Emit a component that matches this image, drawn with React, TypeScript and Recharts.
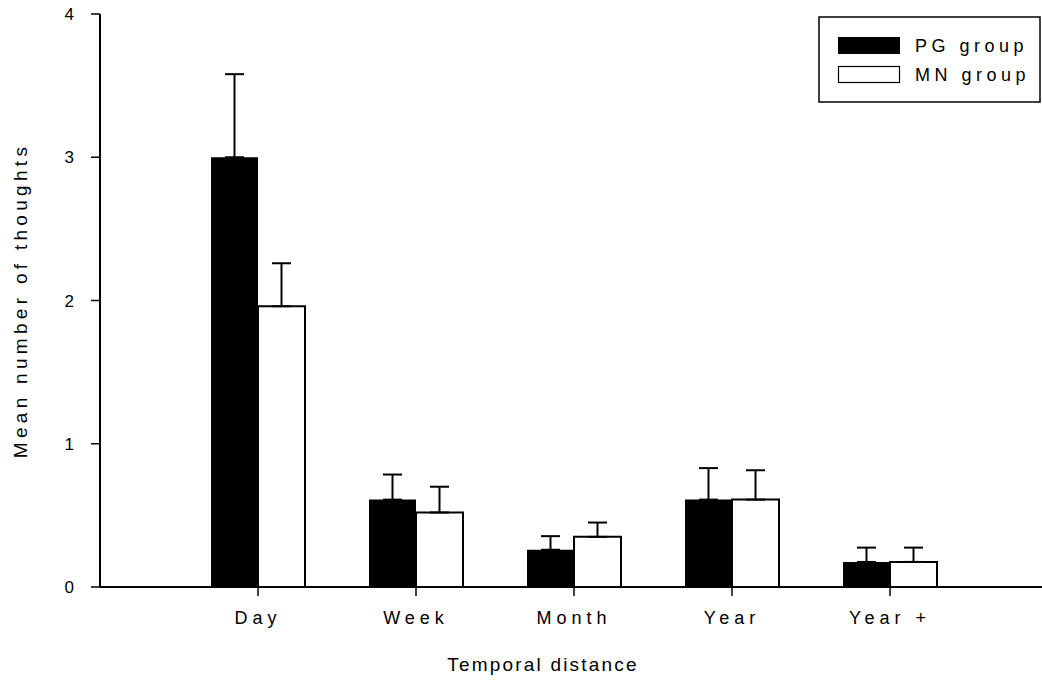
import { Bar, BarChart, ErrorBar, XAxis, YAxis } from "recharts";

const periods = ["Day", "Week", "Month", "Year", "Year +"];
const pgMeans = [3.0, 0.61, 0.26, 0.61, 0.175];
const pgErrors = [0.58, 0.175, 0.095, 0.22, 0.1];
const mnMeans = [1.96, 0.52, 0.35, 0.61, 0.175];
const mnErrors = [0.3, 0.18, 0.1, 0.205, 0.1];
const yTicks = [0, 1, 2, 3, 4];
const seriesNames = ["PG group", "MN group"];

const data = periods.map((period, i) => ({
  period,
  pg: pgMeans[i],
  pgErr: [0, pgErrors[i]],
  mn: mnMeans[i],
  mnErr: [0, mnErrors[i]],
}));

const font = "'Liberation Sans', Arial, sans-serif";

function LegendBox() {
  return (
    <svg width={223} height={87} style={{ display: "block", position: "absolute", left: 818, top: 16 }}>
      <rect x={1} y={1} width={221} height={85} fill="#fff" stroke="#000" strokeWidth={1.5} />
      <rect x={20} y={21} width={62} height={17} fill="#000" />
      <rect x={20.5} y={50.5} width={61} height={16} fill="#fff" stroke="#000" strokeWidth={1.2} />
      <text x={97} y={36} fontFamily={font} fontSize={18} letterSpacing={4.5} fill="#000">{seriesNames[0]}</text>
      <text x={97} y={65} fontFamily={font} fontSize={18} letterSpacing={4.5} fill="#000">{seriesNames[1]}</text>
    </svg>
  );
}

// x title sits a little left of the plot centre in the original
function XTitle(props: any) {
  const { viewBox } = props;
  const cx = viewBox.x + viewBox.width / 2 - 28;
  return (
    <text x={cx} y={viewBox.y + 84} textAnchor="middle" fontFamily={font} fontSize={19} letterSpacing={2.2} fill="#000">
      Temporal distance
    </text>
  );
}

export default function App() {
  return (
    <div style={{ position: "absolute", left: 0, top: 0, width: 1042, height: 683, background: "#fff" }}>
      <BarChart
        width={1042}
        height={683}
        data={data}
        margin={{ top: 14, right: 0, bottom: 0, left: 0 }}
        barGap={0}
        barSize={47}
      >
        <XAxis
          dataKey="period"
          padding={{ left: 79, right: 73 }}
          height={96}
          tickSize={9}
          tickMargin={15}
          axisLine={{ stroke: "#000", strokeWidth: 2 }}
          tickLine={{ stroke: "#000", strokeWidth: 1.5 }}
          tick={{ fill: "#000", fontSize: 18, fontFamily: font, letterSpacing: 5 }}
          label={{ content: XTitle }}
        />
        <YAxis
          domain={[0, 4]}
          ticks={yTicks}
          width={100}
          tickSize={9}
          tickMargin={17}
          axisLine={{ stroke: "#000", strokeWidth: 2 }}
          tickLine={{ stroke: "#000", strokeWidth: 1.5 }}
          tick={{ fill: "#000", fontSize: 17, fontFamily: font }}
          label={{
            value: "Mean number of thoughts",
            angle: -90,
            position: "insideLeft",
            offset: 20,
            fill: "#000",
            fontSize: 19,
            fontFamily: font,
            letterSpacing: 4.3,
            style: { textAnchor: "middle" },
          }}
        />
        <Bar dataKey="pg" name={seriesNames[0]} fill="#000" isAnimationActive={false}>
          <ErrorBar dataKey="pgErr" width={9.5} stroke="#000" strokeWidth={2} direction="y" />
        </Bar>
        <Bar dataKey="mn" name={seriesNames[1]} fill="#fff" stroke="#000" strokeWidth={2} isAnimationActive={false}>
          <ErrorBar dataKey="mnErr" width={9.5} stroke="#000" strokeWidth={2} direction="y" />
        </Bar>
      </BarChart>
      <LegendBox />
    </div>
  );
}
